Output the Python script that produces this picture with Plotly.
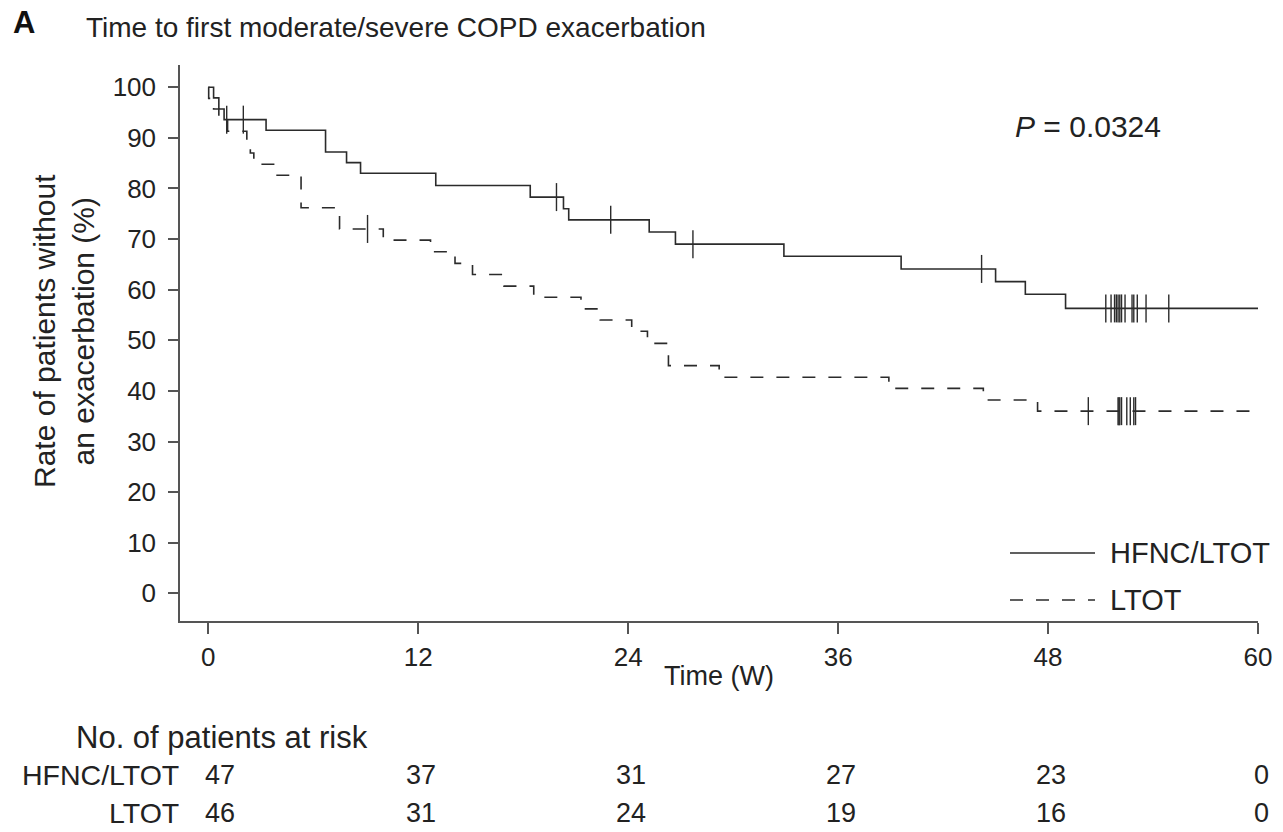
import plotly.graph_objects as go

# ---------------- data ----------------
# Kaplan-Meier step points (time in weeks, % without exacerbation)
hfnc_t = [0, 0.3, 0.6, 0.9, 3.3, 6.7, 7.9, 8.7, 13.0, 18.4, 20.3, 20.6, 25.2, 26.7, 32.9, 39.6, 45.0, 46.7, 49.0, 60]
hfnc_s = [100, 97.9, 95.7, 93.6, 91.5, 87.2, 85.1, 83.0, 80.6, 78.3, 76.0, 73.8, 71.4, 69.0, 66.6, 64.1, 61.6, 59.1, 56.3, 56.3]
hfnc_cens = [1.05, 2.0, 19.9, 23.0, 27.7, 44.2, 51.3, 51.6, 51.8, 51.9, 52.0, 52.1, 52.2, 52.4, 52.8, 52.9, 53.1, 53.6, 54.9]

ltot_t = [0, 0.02, 0.3, 0.6, 1.1, 2.2, 2.4, 2.6, 3.8, 5.3, 7.5, 10.0, 12.7, 14.1, 15.1, 16.9, 18.6, 21.3, 22.4, 24.2, 25.1, 26.3, 29.2, 38.9, 44.3, 47.4, 60]
ltot_s = [100, 97.8, 95.7, 93.5, 91.3, 89.1, 87.0, 84.8, 82.6, 76.2, 72.0, 69.8, 67.5, 65.2, 63.0, 60.7, 58.5, 56.2, 54.0, 51.8, 49.4, 45.0, 42.7, 40.5, 38.2, 36.0, 36.0]
ltot_cens = [9.1, 50.3, 52.0, 52.05, 52.1, 52.2, 52.5, 52.7, 52.9, 53.0]

x_ticks = [0, 12, 24, 36, 48, 60]
y_ticks = [0, 10, 20, 30, 40, 50, 60, 70, 80, 90, 100]
risk_hfnc = [47, 37, 31, 27, 23, 0]
risk_ltot = [46, 31, 24, 19, 16, 0]
group_names = ["HFNC/LTOT", "LTOT"]
p_value = "0.0324"

# ---------------- helpers ----------------
W, H = 1283, 832
ML, MR, MT, MB = 180, 25, 65, 211
PW, PH = W - ML - MR, H - MT - MB


def px(xp):
    return (xp - ML) / PW


def py(yp):
    return (H - MB - yp) / PH


def step_value(ts, ss, t):
    v = ss[0]
    for ti, si in zip(ts, ss):
        if ti <= t:
            v = si
    return v


INK = "#2b2b2b"
TXT = "#222"
FONT = "Liberation Sans, Arial, Helvetica, sans-serif"


def f(size):
    return dict(size=size, family=FONT, color=TXT)


fig = go.Figure()

fig.add_trace(go.Scatter(x=hfnc_t, y=hfnc_s, mode="lines", line=dict(color=INK, width=1.6, shape="hv"),
                         name=group_names[0], showlegend=False, cliponaxis=False))
fig.add_trace(go.Scatter(x=ltot_t, y=ltot_s, mode="lines", line=dict(color=INK, width=1.6, shape="hv", dash="13px,13px"),
                         name=group_names[1], showlegend=False, cliponaxis=False))
fig.add_trace(go.Scatter(x=hfnc_cens, y=[step_value(hfnc_t, hfnc_s, t) for t in hfnc_cens], mode="markers",
                         marker=dict(symbol="line-ns", size=20, line=dict(color=INK, width=1.4)),
                         showlegend=False, cliponaxis=False))
fig.add_trace(go.Scatter(x=ltot_cens, y=[step_value(ltot_t, ltot_s, t) for t in ltot_cens], mode="markers",
                         marker=dict(symbol="line-ns", size=20, line=dict(color=INK, width=1.4)),
                         showlegend=False, cliponaxis=False))

ann = []
# panel letter and title
ann.append(dict(text="<b>A</b>", x=px(11), y=py(22), xanchor="left", yanchor="middle", font=dict(size=31, family=FONT, color="#111")))
ann.append(dict(text="Time to first moderate/severe COPD exacerbation", x=px(84), y=py(28), xanchor="left", yanchor="middle", font=f(28)))
# P value
ann.append(dict(text="<i>P</i> = " + p_value, x=px(1013), y=py(127), xanchor="left", yanchor="middle", font=f(30)))
# y title
ann.append(dict(text="Rate of patients without<br>an exacerbation (%)", x=px(64), y=py(331), xanchor="center", yanchor="middle",
                textangle=-90, font=f(30)))
# x title
ann.append(dict(text="Time (W)", x=px(719), y=py(676), xanchor="center", yanchor="middle", font=f(27)))
# legend text
ann.append(dict(text=group_names[0], x=px(1108), y=py(553), xanchor="left", yanchor="middle", font=f(29)))
ann.append(dict(text=group_names[1], x=px(1108), y=py(600), xanchor="left", yanchor="middle", font=f(29)))
# at risk table
ann.append(dict(text="No. of patients at risk", x=px(74), y=py(737), xanchor="left", yanchor="middle", font=f(31)))
for name, row, yp in [(group_names[0], risk_hfnc, 775), (group_names[1], risk_ltot, 813)]:
    ann.append(dict(text=name, x=px(181), y=py(yp), xanchor="right", yanchor="middle", font=f(28.5)))
    for i, (t, n) in enumerate(zip(x_ticks, row)):
        ann.append(dict(text=str(n), x=t, xref="x", y=py(yp), xanchor="center", yanchor="middle",
                        xshift=12 if i == 0 else 3, font=f(27)))
for a in ann:
    a.setdefault("xref", "paper")
    a["yref"] = "paper"
    a["showarrow"] = False

shapes = [
    dict(type="line", xref="paper", yref="paper", x0=px(1010), x1=px(1095), y0=py(553), y1=py(553), line=dict(color=INK, width=1.6)),
    dict(type="line", xref="paper", yref="paper", x0=px(1010), x1=px(1095), y0=py(600), y1=py(600), line=dict(color=INK, width=1.6, dash="13px,13px")),
]

fig.update_layout(
    width=W, height=H,
    margin=dict(l=ML, r=MR, t=MT, b=MB, pad=0),
    paper_bgcolor="white", plot_bgcolor="white",
    font=dict(family=FONT, size=26, color=TXT),
    annotations=ann, shapes=shapes, showlegend=False,
    xaxis=dict(range=[-1.62, 60.0], tickvals=x_ticks, ticks="outside", ticklen=11, tickwidth=1.5, tickcolor="#555",
               showline=True, linecolor="#555", linewidth=1.5, showgrid=False, zeroline=False,
               tickfont=f(26), ticklabelstandoff=1),
    yaxis=dict(range=[-5.47, 104.4], tickvals=y_ticks, ticks="outside", ticklen=10, tickwidth=1.5, tickcolor="#555",
               showline=True, linecolor="#555", linewidth=1.5, showgrid=False, zeroline=False,
               tickfont=f(26), ticklabelstandoff=7),
)

fig.write_html("out.html", config={"displayModeBar": False},
               post_script="document.body.style.margin='0';document.body.style.overflow='hidden';")
